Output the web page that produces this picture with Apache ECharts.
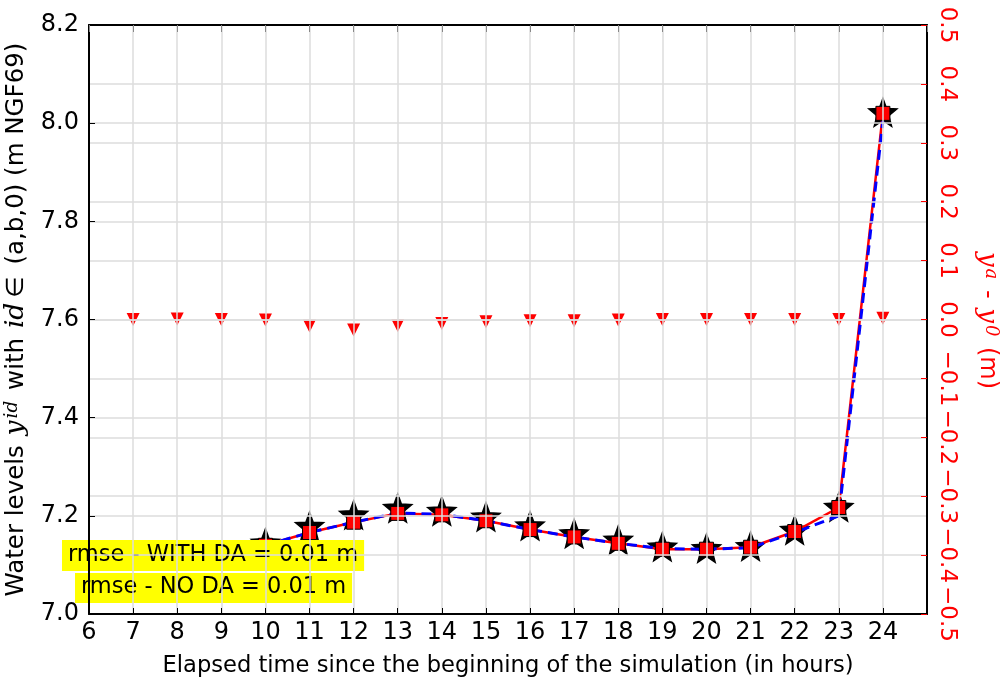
<!DOCTYPE html>
<html>
<head>
<meta charset="utf-8">
<script src="https://cdn.jsdelivr.net/npm/echarts@6/dist/echarts.min.js"></script>
<style>
  html, body { margin: 0; padding: 0; background: #fff; }
  #main { width: 1007px; height: 690px; }
</style>
</head>
<body>
<div id="main"></div>
<script>
// hours where the model / observations are drawn
var hours = [10, 11, 12, 13, 14, 15, 16, 17, 18, 19, 20, 21, 22, 23, 24]
// observed water levels (black stars)
var obs = [7.145, 7.179, 7.202, 7.216, 7.210, 7.198, 7.180, 7.164, 7.151, 7.137, 7.134, 7.138, 7.171, 7.218, 8.022]
// model WITH DA (red line + squares)
var with_da = [7.140, 7.166, 7.187, 7.205, 7.202, 7.190, 7.172, 7.157, 7.144, 7.132, 7.132, 7.136, 7.168, 7.217, 8.020]
// model NO DA (blue dashed)
var no_da = [7.140, 7.166, 7.187, 7.206, 7.203, 7.190, 7.172, 7.157, 7.144, 7.133, 7.132, 7.135, 7.166, 7.200, 8.005]
// difference y^a - y^0 (right axis, red triangles)
var diff_hours = [7, 8, 9, 10, 11, 12, 13, 14, 15, 16, 17, 18, 19, 20, 21, 22, 23, 24]
var diff = [0.0, 0.001, 0.0, -0.001, -0.011, -0.018, -0.010, -0.007, -0.004, -0.002, -0.002, -0.001, 0.0, 0.0, 0.0, 0.0, 0.0, 0.002]
var rmse_lines = ['rmse - WITH DA = 0.01 m', 'rmse - NO DA = 0.01 m']

function pairs(xs, ys) {
    var out = []
    for (var i = 0; i < xs.length; i++) out.push([xs[i], ys[i]])
    return out
}

var font = 'DejaVu Sans'
var star = 'path://M50,0 L63,34 L100,36 L71,59 L81,95 L50,75 L19,95 L29,59 L0,36 L37,34 Z'
var grid_color = '#dcdcdc'

function math_rich(color, size) {
    return {
        i: { fontFamily: 'DejaVu Serif', fontStyle: 'italic', fontSize: size + 2, color: color, padding: [0, 1, 0, 2] },
        s: { fontFamily: 'DejaVu Serif', fontStyle: 'italic', fontSize: size - 6, color: color, verticalAlign: 'top', padding: [0, 3, 0, 1] },
        e: { fontFamily: 'DejaVu Sans', fontSize: size, color: color, padding: [0, 4, 0, 4] }
    }
}

var option = {
    animation: false,
    backgroundColor: '#fff',
    grid: { left: 89, right: 80, top: 25, bottom: 76, outerBoundsMode: 'none', containLabel: false },
    xAxis: [
        {
            type: 'value',
            min: 6, max: 25, interval: 1,
            name: 'Elapsed time since the beginning of the simulation (in hours)',
            nameLocation: 'middle',
            nameGap: 41,
            nameTextStyle: { fontFamily: font, fontSize: 22.6, color: '#000' },
            axisLine: { show: true, onZero: false, lineStyle: { color: '#000', width: 2 } },
            axisTick: { show: true, inside: true, length: 6, lineStyle: { color: '#000' } },
            axisLabel: {
                fontFamily: font, fontSize: 24, color: '#000', margin: 7,
                formatter: function (v) { return v > 24 ? '' : String(v) }
            },
            splitLine: { show: true, lineStyle: { color: grid_color, width: 1.5 } },
            z: 5
        },
        {
            type: 'value',
            position: 'top',
            min: 6, max: 25, interval: 1,
            axisLine: { show: true, onZero: false, lineStyle: { color: '#000', width: 2 } },
            axisTick: { show: true, inside: true, length: 7, lineStyle: { color: '#888' } },
            axisLabel: { show: false },
            splitLine: { show: false },
            z: 5
        }
    ],
    yAxis: [
        {
            type: 'value',
            min: 7.0, max: 8.2, interval: 0.2,
            name: 'Water levels {i|y}{s|id} with {i|id}{e|\u2208} (a,b,0) (m NGF69)',
            nameLocation: 'middle',
            nameGap: 46,
            nameTextStyle: {
                fontFamily: font, fontSize: 24.5, color: '#000',
                rich: math_rich('#000', 24.5)
            },
            axisLine: { show: true, onZero: false, lineStyle: { color: '#000', width: 2 } },
            axisTick: { show: true, inside: true, length: 6, lineStyle: { color: '#000' } },
            axisLabel: {
                fontFamily: font, fontSize: 24, color: '#000', margin: 10,
                formatter: function (v) { return v.toFixed(1) }
            },
            splitLine: { show: true, lineStyle: { color: grid_color, width: 1.5 } },
            z: 5
        },
        {
            type: 'value',
            position: 'right',
            min: -0.5, max: 0.5, interval: 0.1,
            name: '{i|y}{s|a} - {i|y}{s|0} (m)',
            nameLocation: 'middle',
            nameRotate: -90,
            nameGap: 47,
            nameTextStyle: {
                fontFamily: font, fontSize: 24, color: '#ff0000',
                rich: math_rich('#ff0000', 24)
            },
            axisLine: { show: true, onZero: false, lineStyle: { color: '#000', width: 2 } },
            axisTick: { show: true, inside: true, length: 6, lineStyle: { color: '#ff0000' } },
            axisLabel: {
                fontFamily: font, fontSize: 23, color: '#ff0000', margin: 8, rotate: -90,
                formatter: function (v) {
                    var s = Math.abs(v).toFixed(1)
                    return v < -1e-9 ? '\u2212' + s : s
                }
            },
            splitLine: { show: true, lineStyle: { color: grid_color, width: 1.5 } },
            z: 5
        }
    ],
    series: [
        {
            name: 'obs',
            type: 'scatter',
            data: pairs(hours, obs),
            symbol: star,
            symbolSize: 28,
            itemStyle: { color: '#000', borderColor: '#000', borderWidth: 1.5, opacity: 1 },
            z: 2
        },
        {
            name: 'WITH DA',
            type: 'line',
            data: pairs(hours, with_da),
            symbol: 'rect',
            symbolSize: 14,
            showAllSymbol: true,
            lineStyle: { color: '#ff0000', width: 2.5 },
            itemStyle: { color: '#ff0000', borderColor: '#000', borderWidth: 1, opacity: 1 },
            z: 3
        },
        {
            name: 'NO DA',
            type: 'line',
            data: pairs(hours, no_da),
            showSymbol: false,
            lineStyle: { color: '#0000ff', width: 3, type: [10, 6] },
            z: 3
        },
        {
            name: 'diff',
            type: 'scatter',
            yAxisIndex: 1,
            data: pairs(diff_hours, diff),
            symbol: 'triangle',
            symbolRotate: 180,
            symbolSize: 13,
            itemStyle: { color: '#ff0000', opacity: 1 },
            z: 3
        }
    ],
    graphic: [
        {
            type: 'text',
            left: 62, top: 540,
            z: 4,
            style: {
                text: rmse_lines[0],
                font: '22.5px "DejaVu Sans"',
                fill: '#000',
                backgroundColor: '#ffff00',
                padding: [4, 6, 4, 6]
            }
        },
        {
            type: 'text',
            left: 75, top: 573,
            z: 4,
            style: {
                text: rmse_lines[1],
                font: '22.5px "DejaVu Sans"',
                fill: '#000',
                backgroundColor: '#ffff00',
                padding: [3, 6, 4, 6]
            }
        }
    ]
}

var chart = echarts.init(document.getElementById('main'))
chart.setOption(option)
</script>
</body>
</html>
